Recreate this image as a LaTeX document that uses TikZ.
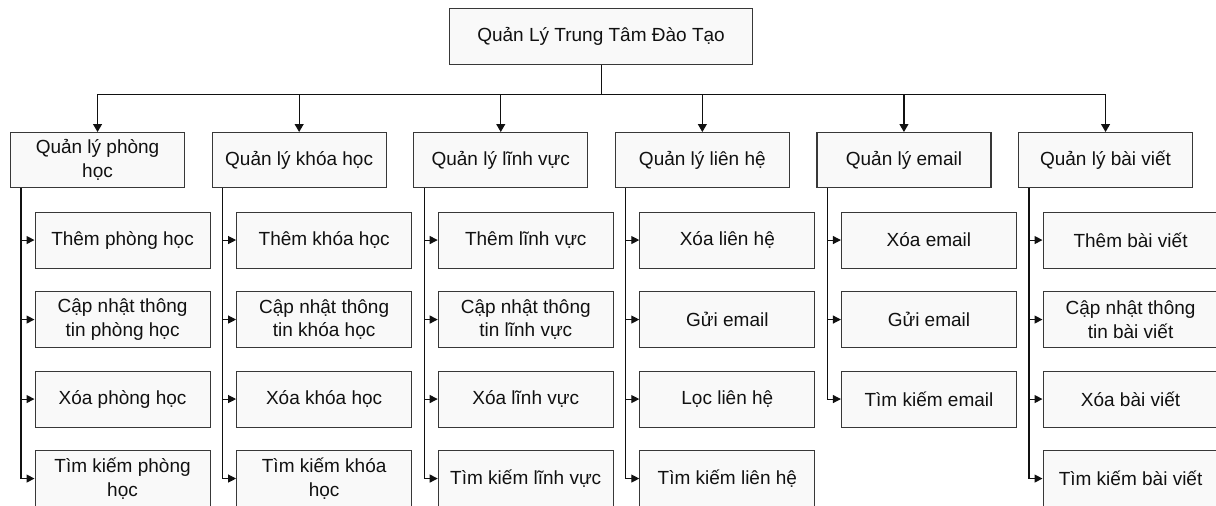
\documentclass[tikz,border=0pt]{standalone}
\usepackage{fontspec}
\setmainfont{Liberation Sans}
\usetikzlibrary{arrows.meta}
\definecolor{boxfill}{HTML}{F9F9F9}
\definecolor{edge}{HTML}{383838}
\definecolor{ink}{HTML}{111111}
\begin{document}
\begin{tikzpicture}[x=1pt,y=-1pt,
  box/.style={draw=edge, line width=1.1pt, fill=boxfill, anchor=north west,
    align=center, inner sep=0pt, text=ink,
    font=\fontsize{19}{23.5}\selectfont},
  topbox/.style={box, minimum width=303pt, minimum height=56pt},
  catbox/.style={box, minimum width=174pt, minimum height=55pt},
  subbox/.style={box, minimum width=175pt, minimum height=56pt},
  link/.style={draw=ink, line width=1.1pt},
  down/.style={link, -{Triangle[length=8pt,width=9pt]}},
  side/.style={link, -{Triangle[length=8pt,width=8pt]}}]
\useasboundingbox (0,0) rectangle (1216,506);

% root
\node[topbox] (top) at (449,8) {Quản Lý Trung Tâm Đào Tạo};

% modules
\node[catbox] (c1) at (10,132)     {Quản lý phòng\\học};
\node[catbox] (c2) at (211.6,132)  {Quản lý khóa học};
\node[catbox] (c3) at (413.2,132)  {Quản lý lĩnh vực};
\node[catbox] (c4) at (614.8,132)  {Quản lý liên hệ};
\node[catbox] (c5) at (816.4,132)  {Quản lý email};
\node[catbox] (c6) at (1018,132)   {Quản lý bài viết};

% functions: room
\node[subbox] (s11) at (34.5,211.5) {Thêm phòng học};
\node[subbox] (s12) at (34.5,291)   {Cập nhật thông\\tin phòng học};
\node[subbox] (s13) at (34.5,370.5) {Xóa phòng học};
\node[subbox] (s14) at (34.5,450)   {Tìm kiếm phòng\\học};
% functions: course
\node[subbox] (s21) at (236.1,211.5) {Thêm khóa học};
\node[subbox] (s22) at (236.1,291)   {Cập nhật thông\\tin khóa học};
\node[subbox] (s23) at (236.1,370.5) {Xóa khóa học};
\node[subbox] (s24) at (236.1,450)   {Tìm kiếm khóa\\học};
% functions: field
\node[subbox] (s31) at (437.7,211.5) {Thêm lĩnh vực};
\node[subbox] (s32) at (437.7,291)   {Cập nhật thông\\tin lĩnh vực};
\node[subbox] (s33) at (437.7,370.5) {Xóa lĩnh vực};
\node[subbox] (s34) at (437.7,450)   {Tìm kiếm lĩnh vực};
% functions: contact
\node[subbox] (s41) at (639.3,211.5) {Xóa liên hệ};
\node[subbox] (s42) at (639.3,291)   {Gửi email};
\node[subbox] (s43) at (639.3,370.5) {Lọc liên hệ};
\node[subbox] (s44) at (639.3,450)   {Tìm kiếm liên hệ};
% functions: email
\node[subbox] (s51) at (840.9,211.5) {Xóa email};
\node[subbox] (s52) at (840.9,291)   {Gửi email};
\node[subbox] (s53) at (840.9,370.5) {Tìm kiếm email};
% functions: posts
\node[subbox] (s61) at (1042.5,211.5) {Thêm bài viết};
\node[subbox] (s62) at (1042.5,291)   {Cập nhật thông\\tin bài viết};
\node[subbox] (s63) at (1042.5,370.5) {Xóa bài viết};
\node[subbox] (s64) at (1042.5,450)   {Tìm kiếm bài viết};

% root to modules
\coordinate (bus) at (top.south |- 0,94.5);
\draw[link] (top.south) -- (bus);
\foreach \c in {c1,c2,c3,c4,c5,c6}
  \draw[down] (bus) -| (\c.north);

% modules to their functions: one trunk per module ending in the last
% function, plus a branch to each of the others
\foreach \c/\last/\list in {c1/s14/{s11,s12,s13}, c2/s24/{s21,s22,s23},
                            c3/s34/{s31,s32,s33}, c4/s44/{s41,s42,s43},
                            c5/s53/{s51,s52},     c6/s64/{s61,s62,s63}}{
  \coordinate (\c-trunk) at ([xshift=11pt]\c.south west);
  \draw[side] (\c-trunk) |- (\last.west);
  \foreach \s in \list
    \draw[side] (\c-trunk |- \s.west) -- (\s.west);
}
\end{tikzpicture}
\end{document}
